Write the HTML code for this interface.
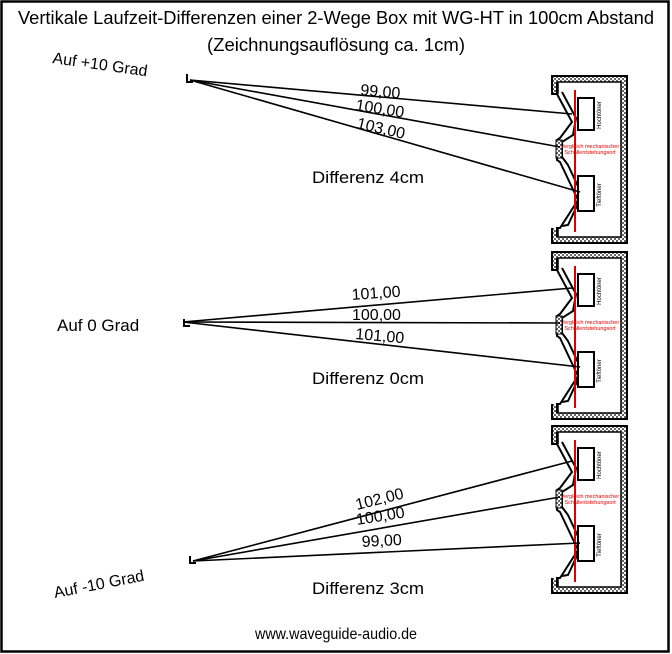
<!DOCTYPE html>
<html><head><meta charset="utf-8"><style>
html,body{margin:0;padding:0;background:#fff}
svg{display:block}
text{font-family:"Liberation Sans",sans-serif;fill:#000}
</style></head><body>
<svg width="672" height="654" viewBox="0 0 672 654" xmlns="http://www.w3.org/2000/svg">
<defs>
<pattern id="h" width="4" height="4" patternUnits="userSpaceOnUse">
<rect width="4" height="4" fill="#fff"/>
<rect x="0" y="0" width="2" height="2" fill="#666"/>
<rect x="2" y="2" width="2" height="2" fill="#666"/>
</pattern>
<g id="box">
<rect x="552" y="76" width="75" height="167" fill="url(#h)" stroke="#000" stroke-width="2"/>
<rect x="558" y="82" width="63" height="155" fill="#fff" stroke="#000" stroke-width="1.5"/>
<rect x="551" y="94" width="11" height="134" fill="#fff"/>
<path d="M552,76 L552,94 L557,94 L557,82 M557,94 L572,122 L560,138 L557,140 L557,160 L560,162 L578,200 L560,228 L557,228 L557,237 M552,228 L552,243" fill="none" stroke="#000" stroke-width="2"/>
<path d="M562,92 L576,118 L573,135 L562,142 L562,157 L568,165 L582,195 L568,225 L562,226" fill="none" stroke="#000" stroke-width="2"/>
<rect x="556" y="140" width="6" height="18" fill="url(#h)" stroke="#000"/>
<line x1="575" y1="90" x2="575" y2="232" stroke="#d00" stroke-width="2"/>
<rect x="578" y="98" width="16" height="32" fill="#fff" stroke="#000" stroke-width="2"/>
<rect x="578" y="176" width="16" height="35" fill="#fff" stroke="#000" stroke-width="2"/>
<text transform="translate(601,115) rotate(-90)" font-size="6" text-anchor="middle">Hochtöner</text>
<text transform="translate(601,195) rotate(-90)" font-size="6" text-anchor="middle">Tieftöner</text>
<text x="590" y="148" font-size="5.5" text-anchor="middle" style="fill:#d00">Vergleich mechanischer</text>
<text x="590" y="154" font-size="5.5" text-anchor="middle" style="fill:#d00">Schallentstehungsort</text>
</g>
</defs>
<rect x="1.5" y="1.5" width="667" height="650" fill="#fff" stroke="#000" stroke-width="2.5"/>
<text x="336" y="24" font-size="18" text-anchor="middle" textLength="636" lengthAdjust="spacingAndGlyphs">Vertikale Laufzeit-Differenzen einer 2-Wege Box mit WG-HT in 100cm Abstand</text>
<text x="336" y="51" font-size="18" text-anchor="middle" textLength="258" lengthAdjust="spacingAndGlyphs">(Zeichnungsauflösung ca. 1cm)</text>

<use href="#box"/>
<use href="#box" transform="translate(0,176)"/>
<use href="#box" transform="translate(0,350)"/>

<g stroke="#000" stroke-width="1.6" fill="none">
<line x1="190" y1="80" x2="572" y2="114"/>
<line x1="190" y1="80" x2="560" y2="147"/>
<line x1="190" y1="80" x2="580" y2="192"/>
<line x1="183" y1="322" x2="572" y2="288"/>
<line x1="183" y1="322" x2="560" y2="323"/>
<line x1="183" y1="322" x2="580" y2="367"/>
<line x1="193" y1="561" x2="572" y2="461"/>
<line x1="193" y1="561" x2="560" y2="497"/>
<line x1="193" y1="561" x2="580" y2="543"/>
<path d="M187,74 L187,82 L193,82 M184,319 L184,326 L190,326 M190,556 L190,563 L196,563" stroke-width="2"/>
</g>
<text font-size="16" transform="translate(52,63) rotate(8)">Auf +10 Grad</text>
<text font-size="17" x="57" y="331">Auf 0 Grad</text>
<text font-size="16" transform="translate(55,598) rotate(-11)">Auf -10 Grad</text>

<text font-size="16" transform="translate(360,95) rotate(5)">99,00</text>
<text font-size="16" transform="translate(355,110) rotate(9)">100,00</text>
<text font-size="16" transform="translate(356,128) rotate(13)">103,00</text>

<text font-size="16" transform="translate(352,300) rotate(-4)">101,00</text>
<text font-size="16" transform="translate(352,320)">100,00</text>
<text font-size="16" transform="translate(355,339) rotate(5)">101,00</text>

<text font-size="16" transform="translate(357,510) rotate(-14)">102,00</text>
<text font-size="16" transform="translate(357,525) rotate(-9)">100,00</text>
<text font-size="16" transform="translate(362,547) rotate(-3)">99,00</text>

<text font-size="17" x="368" y="183" text-anchor="middle" textLength="112" lengthAdjust="spacingAndGlyphs">Differenz 4cm</text>
<text font-size="17" x="368" y="384" text-anchor="middle" textLength="112" lengthAdjust="spacingAndGlyphs">Differenz 0cm</text>
<text font-size="17" x="368" y="594" text-anchor="middle" textLength="112" lengthAdjust="spacingAndGlyphs">Differenz 3cm</text>
<text font-size="16" x="336" y="639" text-anchor="middle" textLength="162" lengthAdjust="spacingAndGlyphs">www.waveguide-audio.de</text>
</svg>
</body></html>
